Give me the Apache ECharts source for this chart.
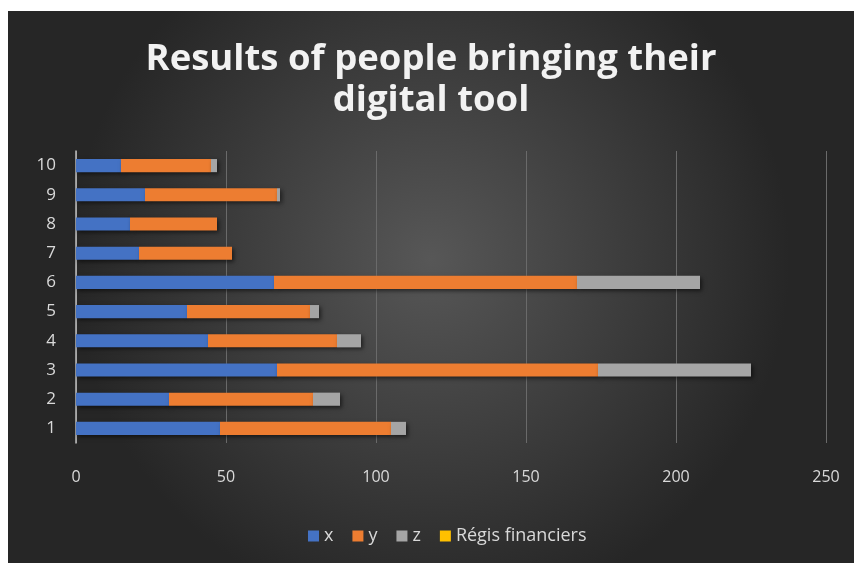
<!DOCTYPE html>
<html>
<head>
<meta charset="utf-8">
<script src="https://cdn.jsdelivr.net/npm/echarts@6/dist/echarts.min.js"></script>
<style>
html,body{margin:0;padding:0;background:#fff;width:854px;height:563px;overflow:hidden;}
#c{position:absolute;left:8px;top:11px;width:846px;height:552px;}
</style>
</head>
<body>
<div id="c"></div>
<script>
const categories = ['1','2','3','4','5','6','7','8','9','10'];
const xValues = [48, 31, 67, 44, 37, 66, 21, 18, 23, 15];
const yValues = [57, 48, 107, 43, 41, 101, 31, 29, 44, 30];
const zValues = [5, 9, 51, 8, 3, 41, 0, 0, 1, 2];
const regisValues = [0, 0, 0, 0, 0, 0, 0, 0, 0, 0];
const seriesNames = ['x', 'y', 'z', 'Régis financiers'];
const colors = ['#4472C4', '#ED7D31', '#A5A5A5', '#FFC000'];

const chart = echarts.init(document.getElementById('c'));
const shadow = {shadowBlur: 4, shadowColor: 'rgba(0,0,0,0.55)', shadowOffsetX: 2, shadowOffsetY: 2};
const allData = [xValues, yValues, zValues, regisValues];
chart.setOption({
  backgroundColor: {
    type: 'radial', x: 0.5, y: 0.45, r: 0.65,
    colorStops: [{offset: 0, color: '#575757'}, {offset: 1, color: '#262626'}]
  },
  color: colors,
  title: {
    text: 'Results of people bringing their\ndigital tool',
    left: 'center', top: 23,
    textStyle: {color: '#f2f2f2', fontFamily: 'Open Sans', fontWeight: 'bold', fontSize: 36.5, lineHeight: 41}
  },
  legend: {
    bottom: 13, left: 295,
    itemWidth: 11, itemHeight: 11, itemGap: 19, icon: 'rect',
    textStyle: {color: '#d9d9d9', fontFamily: 'Open Sans', fontSize: 18},
    data: seriesNames
  },
  grid: {left: 68, right: 28, top: 140, bottom: 120, containLabel: false},
  xAxis: {
    type: 'value', min: 0, max: 250, interval: 50,
    axisLine: {show: false}, axisTick: {show: false},
    axisLabel: {color: '#d9d9d9', fontFamily: 'Open Sans', fontSize: 16, margin: 26},
    splitLine: {lineStyle: {color: '#6a6a6a', width: 1}}
  },
  yAxis: {
    type: 'category', data: categories,
    axisLine: {show: true, lineStyle: {color: '#bfbfbf', width: 1.5}},
    axisTick: {show: false},
    axisLabel: {color: '#d9d9d9', fontFamily: 'Open Sans', fontSize: 17, margin: 20}
  },
  series: seriesNames.map((n, i) => ({
    name: n, type: 'bar', stack: 'total', barWidth: '45%',
    data: allData[i],
    itemStyle: Object.assign({color: colors[i]}, shadow)
  }))
});
</script>
</body>
</html>
